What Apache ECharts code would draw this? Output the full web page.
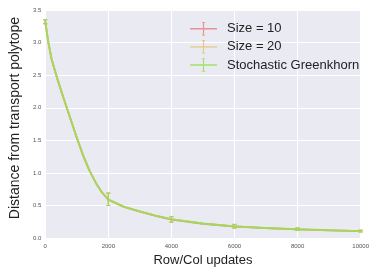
<!DOCTYPE html>
<html><head><meta charset="utf-8">
<script src="https://cdn.jsdelivr.net/npm/echarts@6/dist/echarts.min.js"></script>
<style>html,body{margin:0;padding:0;background:#fff}#c{width:372px;height:272px}</style>
</head><body><div id="c"></div>
<script>
const updates = [0,100,200,400,600,800,1000,1200,1400,1600,1800,2000,2500,3000,3500,4000,5000,6000,7000,8000,9000,10000];
const size10 = [3.32,3.0,2.75,2.42,2.12,1.83,1.54,1.27,1.04,0.85,0.70,0.59,0.48,0.405,0.34,0.285,0.22,0.178,0.152,0.133,0.118,0.106];
const size20 = [3.32,3.0,2.75,2.42,2.12,1.83,1.54,1.27,1.04,0.85,0.70,0.59,0.48,0.41,0.345,0.29,0.222,0.18,0.154,0.135,0.12,0.107];
const stochastic = [3.32,3.0,2.75,2.42,2.12,1.83,1.54,1.27,1.04,0.85,0.70,0.59,0.48,0.41,0.345,0.29,0.224,0.181,0.155,0.136,0.121,0.108];
const errX = [0,2000,4000,6000,8000,10000];
const errLow = [3.29,0.50,0.245,0.155,0.12,0.094];
const errHigh = [3.35,0.69,0.33,0.21,0.155,0.122];
const names = ['Size = 10','Size = 20','Stochastic Greenkhorn'];
const colors = ['rgba(230,110,110,0.7)','rgba(225,185,90,0.7)','rgba(150,225,85,0.85)'];

const chart = echarts.init(document.getElementById('c'), null, {renderer:'canvas'});
const icon = 'path://M0,9.3 L28,9.3 L28,10.7 L0,10.7 Z M13.4,3 L14.6,3 L14.6,17 L13.4,17 Z M12.3,3 L15.7,3 L15.7,3.9 L12.3,3.9 Z M12.3,16.1 L15.7,16.1 L15.7,17 L12.3,17 Z';
const lineData = [size10,size20,stochastic];
const series = [];
lineData.forEach((arr,i)=>{
  series.push({
    name: names[i], type:'line', data: updates.map((x,j)=>[x,arr[j]]),
    showSymbol:false, symbol:'none', smooth:false,
    lineStyle:{color:colors[i], width:1.8, join:'round'}, itemStyle:{color:colors[i]}, z:2+i
  });
  series.push({
    type:'custom', name: names[i], z:2+i,
    data: errX.map((x,j)=>[x,errLow[j],errHigh[j]]),
    renderItem:function(params, api){
      const lo = api.coord([api.value(0), api.value(1)]);
      const hi = api.coord([api.value(0), api.value(2)]);
      const cw = 2;
      return {type:'group', children:[
        {type:'line', shape:{x1:lo[0],y1:lo[1],x2:hi[0],y2:hi[1]}, style:{stroke:colors[i], lineWidth:1}},
        {type:'line', shape:{x1:lo[0]-cw,y1:lo[1],x2:lo[0]+cw,y2:lo[1]}, style:{stroke:colors[i], lineWidth:1}},
        {type:'line', shape:{x1:hi[0]-cw,y1:hi[1],x2:hi[0]+cw,y2:hi[1]}, style:{stroke:colors[i], lineWidth:1}}
      ]};
    }
  });
});

chart.setOption({
  animation:false,
  backgroundColor:'#ffffff',
  textStyle:{fontFamily:'Liberation Sans, Arial, sans-serif'},
  grid:{left:33.5, right:2.7, top:10, bottom:24, show:true, backgroundColor:'#eaeaf2', borderWidth:0},
  legend:{
    data: names.map((n,i)=>({name:n, icon:icon, itemStyle:{color:colors[i]}})),
    orient:'vertical', left:185, top:17, padding:5, itemWidth:27, itemHeight:14, itemGap:4.6,
    textStyle:{fontSize:13, color:'#222', padding:[0,0,0,5], fontFamily:'Liberation Sans, Arial, sans-serif'}
  },
  xAxis:{type:'value', min:0, max:10000, interval:2000,
    name:'Row/Col updates', nameLocation:'middle', nameGap:12,
    nameTextStyle:{fontSize:13, color:'#222'},
    axisLine:{show:false}, axisTick:{show:false},
    axisLabel:{fontSize:6, color:'#555', margin:5, showMaxLabel:true, formatter:v=>String(v)},
    splitLine:{lineStyle:{color:'#ffffff', width:1}}
  },
  yAxis:{type:'value', min:0, max:3.5, interval:0.5,
    name:'Distance from transport polytope', nameLocation:'middle', nameGap:20,
    nameTextStyle:{fontSize:14, color:'#222', padding:[0,0,0,12]},
    axisLine:{show:false}, axisTick:{show:false},
    axisLabel:{fontSize:6, color:'#555', margin:4, formatter:v=>v.toFixed(1)},
    splitLine:{lineStyle:{color:'#ffffff', width:1}}
  },
  series: series
});
</script></body></html>
